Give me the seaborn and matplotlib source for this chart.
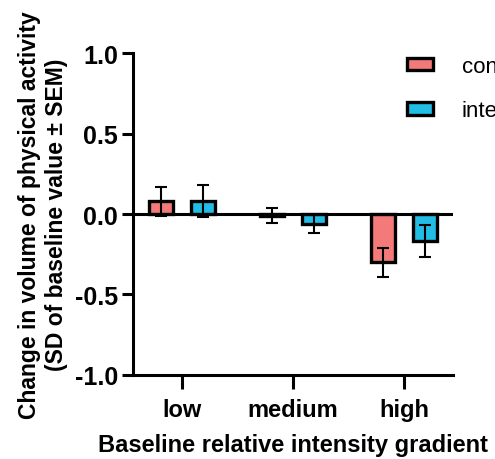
import numpy as np
import pandas as pd
import matplotlib
matplotlib.use("Agg")
import matplotlib.pyplot as plt
import seaborn as sns
from matplotlib.patches import Patch

# values (SD of baseline value), with SEM
categories = ["low", "medium", "high"]
groups = ["control", "intervention"]
control_mean = [0.08, -0.01, -0.30]
control_sem = [0.09, 0.045, 0.09]
interv_mean = [0.08, -0.06, -0.165]
interv_sem = [0.10, 0.055, 0.10]

colors = {"control": "#F47A7A", "intervention": "#22BDE4"}

df = pd.DataFrame({
    "gradient": categories * 2,
    "group": ["control"] * 3 + ["intervention"] * 3,
    "value": control_mean + interv_mean,
    "sem": control_sem + interv_sem,
})

sns.set_style("ticks", {"axes.edgecolor": "black", "text.color": "black",
                        "xtick.color": "black", "ytick.color": "black",
                        "axes.labelcolor": "black"})
plt.rcParams["font.family"] = ["Liberation Sans", "DejaVu Sans"]

fig = plt.figure(figsize=(4.95, 4.6), dpi=100)
ax = fig.add_axes([0.269, 0.183, 0.646, 0.699])

sns.barplot(data=df, x="gradient", y="value", hue="group", order=categories,
            hue_order=groups, palette=colors, saturation=1, width=0.76, gap=0.42,
            edgecolor="black", linewidth=2.4, errorbar=None, legend=False,
            ax=ax, zorder=2)

# error bars at the bar centres seaborn picked
for p, (_, row) in zip(ax.patches, df.iterrows()):
    xc = p.get_x() + p.get_width() / 2
    ax.errorbar(xc, row["value"], yerr=row["sem"], fmt="none", ecolor="black",
                elinewidth=1.5, capsize=4.3, capthick=1.5, zorder=3)

ax.axhline(0, color="black", lw=2.2, zorder=4)

ax.set_ylim(-1.0, 1.0)
ax.set_xlim(-0.44, 2.44)
ax.set_yticks([-1.0, -0.5, 0.0, 0.5, 1.0])
ax.set_yticklabels(["-1.0", "-0.5", "0.0", "0.5", "1.0"])
sns.despine(ax=ax)
for s in ["left", "bottom"]:
    ax.spines[s].set_linewidth(2.2)
ax.tick_params(axis="y", length=8, width=2.2, labelsize=18, pad=3)
ax.tick_params(axis="x", length=10, width=2.2, labelsize=17, pad=7)
for t in ax.get_xticklabels() + ax.get_yticklabels():
    t.set_fontweight("bold")

ax.set_xlabel("Baseline relative intensity gradient", fontsize=17,
              fontweight="bold", labelpad=8)
ax.set_ylabel("Change in volume of physical activity\n(SD of baseline value ± SEM)",
              fontsize=16.5, fontweight="bold", labelpad=5)

handles = [Patch(facecolor=colors[g], edgecolor="black", linewidth=2.4) for g in groups]
fig.legend(handles, groups, loc="upper left", bbox_to_anchor=(0.782, 0.92),
           frameon=False, fontsize=16, handlelength=1.15, handleheight=0.5,
           handletextpad=1.3, labelspacing=1.05)

fig.savefig("out.png", dpi=100)
